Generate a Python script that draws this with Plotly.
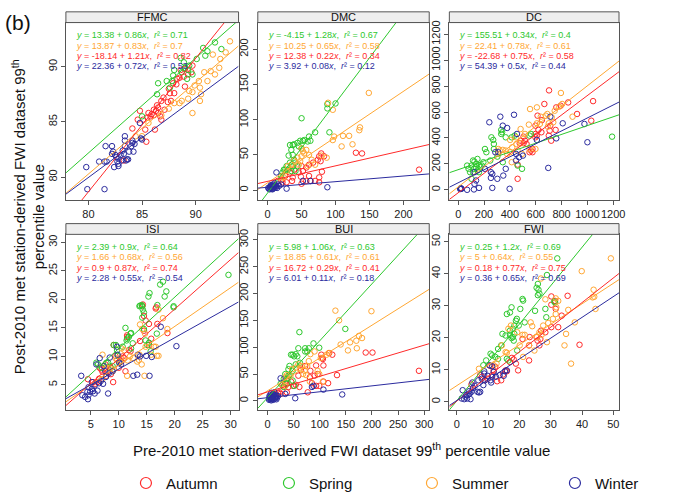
import plotly.graph_objects as go

FONT = "Liberation Sans, Arial, Helvetica, sans-serif"
W, H = 698, 500

seasons = ["Autumn", "Spring", "Summer", "Winter"]
colors = {"Autumn": "#FF2A2A", "Spring": "#2DC82D", "Summer": "#FFA733", "Winter": "#2B2B9E"}
fit_order = ["Spring", "Summer", "Autumn", "Winter"]

# ---- FFMC ----
ffmc_autumn = [(83.3,81.5),(84.1,84.4),(84.6,85.2),(84.8,86.0),(85.1,85.2),(85.3,84.3),(85.4,83.2),(85.5,85.4),(85.6,85.8),(85.8,85.5),(85.9,85.7),(86.1,85.6),(86.2,84.3),(86.3,86.0),(86.4,86.5),(86.5,85.8),(86.7,85.5),(86.8,85.2),(87.1,86.1),(86.5,86.3),(86.1,86.1),(87.4,86.8),(88.6,89.7),(89.3,89.3),(88.9,89.1),(87.6,87.6),(87.7,86.9),(87.9,88.5),(89.6,89.5),(89.0,88.2),(89.7,90.1),(88.3,88.9),(87.0,87.2),(87.5,88.0),(88.2,88.4),(88.0,87.6),(86.8,86.9),(89.0,89.8),(88.5,89.0)]
ffmc_spring = [(85.0,85.5),(86.4,87.5),(86.5,88.5),(87.3,88.7),(87.9,89.2),(88.0,89.7),(88.6,90.8),(88.9,90.4),(89.0,89.9),(89.3,89.7),(90.1,90.7),(90.7,91.7),(90.9,91.0),(91.1,91.4),(87.8,88.7),(87.6,88.1),(88.7,89.5),(89.2,88.9),(89.4,90.1),(89.7,89.3),(92.4,91.6),(91.8,92.2)]
ffmc_summer = [(91.6,91.1),(92.3,90.7),(92.2,89.9),(91.4,89.6),(91.8,89.3),(90.8,89.5),(90.3,88.7),(89.9,88.3),(89.7,87.7),(89.4,87.8),(89.3,87.1),(90.4,88.1),(91.1,88.7),(90.5,87.5),(88.7,86.9),(84.4,83.7),(85.0,83.7),(88.0,86.7),(88.5,86.7),(89.7,85.8),(90.4,86.9),(85.6,84.9),(93.2,92.3),(92.8,91.3),(86.8,85.6),(87.5,86.2)]
ffmc_winter = [(79.8,80.9),(79.9,78.9),(81.5,78.9),(81.0,81.4),(81.5,81.4),(81.6,82.8),(81.7,81.4),(82.2,82.1),(82.2,82.8),(82.3,82.3),(82.4,80.9),(82.5,82.0),(82.6,81.8),(82.7,81.4),(82.8,81.7),(82.8,81.2),(82.8,81.0),(83.0,82.0),(83.1,81.5),(83.2,82.4),(83.3,82.1),(83.4,83.7),(83.4,82.8),(83.4,83.3),(83.5,81.5),(83.6,81.6),(83.7,81.6),(83.8,82.3),(84.0,82.8),(84.1,83.3),(84.1,83.1),(84.2,82.3),(84.3,83.0),(84.8,84.9),(84.9,83.5),(85.0,83.4)]
ffmc_intercept = [13.38, 13.87, -18.14, 22.36]
ffmc_slope = [0.86, 0.83, 1.21, 0.72]
ffmc_r2 = [0.71, 0.7, 0.82, 0.53]

# ---- DMC ----
dmc_autumn = [(223,29),(130,53),(139,52),(79,52),(76,48),(78,41),(67,39),(61,36),(57,32),(50,34),(52,27),(49,19),(36,13),(37,18),(26,20),(28,11),(22,11),(50,9),(63,13),(76,18),(80,26),(76,11),(46,25),(39,29),(33,25),(61,20),(57,13),(70,13),(20,14),(15,13),(74,43),(83,48)]
dmc_spring = [(50,102),(70,82),(91,82),(88,122),(88,116),(100,123),(54,71),(52,70),(48,70),(44,67),(39,65),(37,64),(33,64),(31,49),(46,62),(50,59),(59,69),(61,76),(63,70),(35,57),(37,50),(39,43),(41,39),(33,39),(28,34),(26,29),(37,34),(44,34),(22,25),(20,20),(30,29),(41,27),(35,27),(24,29)]
dmc_summer = [(96,114),(89,124),(136,89),(135,85),(120,77),(111,77),(98,76),(96,71),(109,62),(125,65),(87,46),(79,49),(70,36),(65,43),(61,50),(54,52),(50,59),(52,55),(57,57),(48,41),(46,36),(39,42),(35,36),(30,34),(28,27),(24,18),(20,16),(50,48),(59,34),(44,46),(149,138)]
dmc_winter = [(2,2),(3,4),(4,3),(5,5),(6,2),(7,4),(8,6),(9,3),(10,5),(11,7),(12,4),(5,7),(3,1),(6,6),(8,2),(13,6),(15,8),(4,5),(7,1),(9,8),(13,25),(28,2),(52,13),(63,13),(88,4),(17,6),(20,8),(10,10),(14,3),(1,3)]
dmc_intercept = [-4.15, 10.25, 12.38, 3.92]
dmc_slope = [1.28, 0.65, 0.22, 0.08]
dmc_r2 = [0.67, 0.58, 0.34, 0.12]

# ---- DC ----
dc_autumn = [(460,85),(460,195),(476,359),(483,379),(506,359),(517,379),(529,354),(563,303),(575,315),(575,290),(614,572),(598,495),(621,462),(598,431),(644,444),(648,538),(667,662),(701,418),(708,456),(713,495),(720,379),(754,462),(759,636),(793,649),(851,674),(920,585),(1030,533),(552,290),(609,418),(598,405),(506,410),(703,767),(1044,684)]
dc_spring = [(69,187),(80,162),(92,136),(103,187),(115,226),(126,218),(138,200),(149,238),(138,174),(161,187),(172,174),(184,187),(195,213),(161,136),(149,149),(115,136),(103,85),(120,162),(207,315),(218,290),(257,405),(271,385),(276,354),(276,315),(248,226),(303,256),(333,431),(340,444),(333,462),(345,213),(368,405),(414,405),(460,187),(437,418),(552,418),(494,162),(1191,410),(563,431)]
dc_summer = [(795,747),(556,623),(609,636),(639,564),(678,572),(747,610),(782,641),(805,662),(724,559),(701,513),(609,513),(632,508),(694,487),(736,521),(690,585),(885,564),(547,503),(483,359),(451,354),(483,469),(448,405),(460,303),(418,328),(402,290),(368,303),(345,308),(322,303),(310,277),(310,315),(402,385),(379,277),(517,431),(552,315),(598,315),(494,277),(414,213)]
dc_winter = [(23,8),(18,10),(20,12),(25,9),(15,6),(69,0),(122,3),(126,136),(161,15),(126,46),(138,72),(207,162),(241,521),(253,136),(264,123),(253,92),(264,15),(303,85),(310,290),(287,290),(326,564),(345,495),(349,110),(368,162),(379,477),(398,8),(432,579),(448,277),(448,226),(455,431),(471,251),(501,264),(697,169),(713,564),(759,397),(809,513),(977,508),(1000,367),(609,385)]
dc_intercept = [155.51, 22.41, -22.68, 54.39]
dc_slope = [0.34, 0.78, 0.75, 0.5]
dc_r2 = [0.4, 0.61, 0.58, 0.44]

# ---- ISI ----
isi_autumn = [(4.5,6.0),(5.4,5.5),(5.8,5.2),(6.2,5.5),(6.5,6.1),(6.6,8.0),(6.9,7.7),(7.1,7.3),(7.6,8.6),(7.8,6.6),(8.0,7.2),(8.6,6.9),(8.5,8.2),(9.0,5.5),(9.4,10.1),(9.1,12.0),(10.0,8.0),(10.5,9.1),(10.7,10.0),(11.0,9.7),(11.2,7.4),(11.5,13.4),(11.8,11.1),(12.1,10.9),(11.5,13.7),(13.8,12.7),(14.2,18.8),(14.5,17.1),(14.5,14.5),(14.8,16.3),(15.4,12.0),(15.4,15.7),(15.8,13.1),(16.6,18.4),(16.9,15.7),(18.7,14.1),(16.7,18.6),(14.3,19.1)]
isi_spring = [(6.0,8.9),(6.3,8.6),(7.0,8.0),(7.8,8.9),(8.1,8.9),(8.6,8.0),(8.9,8.3),(9.1,12.0),(9.5,12.0),(9.7,11.1),(9.8,10.1),(10.1,8.9),(10.7,11.7),(11.2,15.0),(11.4,12.8),(11.5,13.1),(11.8,13.4),(12.1,14.0),(12.2,14.1),(12.2,11.4),(12.5,12.3),(13.7,18.8),(14.2,18.8),(14.3,18.2),(14.5,17.7),(14.2,16.8),(14.5,14.8),(14.8,12.8),(15.1,12.0),(15.4,12.4),(15.7,10.9),(16.8,14.0),(19.8,18.6),(13.8,18.9),(14.1,19.0),(16.9,19.0),(17.4,22.6),(17.9,23.1),(18.2,20.5),(18.5,21.4),(15.5,21.1),(15.3,20.5),(29.6,24.3),(19.8,18.8)]
isi_summer = [(7.0,6.0),(7.8,8.0),(8.4,8.0),(8.9,7.4),(9.1,7.7),(9.4,9.7),(9.7,9.4),(10.2,9.1),(10.4,9.7),(11.0,11.1),(10.5,11.4),(11.5,6.6),(11.6,9.3),(12.0,10.0),(12.6,9.7),(13.3,9.1),(13.6,9.4),(14.1,8.6),(14.6,6.6),(13.7,10.3),(13.8,15.6),(14.7,14.0),(14.2,14.8),(14.8,11.7),(15.8,10.3),(16.3,11.7),(16.6,11.7),(16.8,10.1),(17.1,10.1),(17.9,16.7),(17.1,18.2),(18.7,14.8),(7.1,10.3)]
isi_winter = [(3.3,6.6),(3.5,3.2),(4.5,2.5),(4.6,3.2),(4.9,3.8),(5.2,4.3),(4.6,4.6),(5.2,5.5),(5.7,4.9),(6.2,4.0),(5.7,3.5),(4.4,3.8),(6.5,5.3),(6.8,5.7),(6.0,8.6),(6.6,9.7),(7.3,8.3),(7.2,5.2),(7.6,7.4),(7.7,6.4),(8.2,7.0),(8.1,3.5),(8.4,9.8),(8.9,7.4),(9.7,11.7),(9.8,10.3),(10.1,8.9),(10.4,8.6),(12.6,6.6),(13.3,6.8),(13.4,10.3),(13.8,10.0),(14.9,10.1),(15.5,6.6),(15.9,9.9),(17.5,15.2),(20.3,11.8),(4.0,2.9),(5.4,3.9)]
isi_intercept = [2.39, 1.66, 0.9, 2.28]
isi_slope = [0.9, 0.68, 0.87, 0.55]
isi_r2 = [0.64, 0.56, 0.74, 0.54]

# ---- BUI ----
bui_autumn = [(290,56),(188,90),(201,90),(124,86),(118,89),(106,78),(107,66),(93,66),(96,50),(107,36),(116,33),(133,48),(82,56),(81,44),(85,33),(93,28),(77,16),(72,65),(64,57),(59,47),(61,26),(54,30),(49,28),(45,36),(37,38),(34,33),(30,27),(25,13),(23,16),(20,15),(14,13),(37,16),(40,26),(90,47),(99,28),(105,80),(103,86)]
bui_spring = [(61,128),(88,107),(99,99),(72,98),(72,92),(76,92),(79,98),(59,98),(48,86),(51,83),(45,86),(54,87),(57,83),(42,65),(40,59),(34,50),(37,42),(42,48),(48,56),(54,68),(51,28),(31,26),(37,32),(48,38),(149,134),(62,71),(40,47),(31,41),(25,32)]
bui_summer = [(130,168),(199,167),(137,150),(140,105),(154,94),(158,109),(170,112),(175,121),(181,117),(171,98),(117,89),(113,86),(102,80),(90,92),(82,87),(79,74),(76,65),(71,56),(68,50),(74,48),(65,65),(62,60),(59,68),(54,62),(47,59),(44,47),(37,48),(34,44),(28,30),(34,28),(99,50),(106,36),(81,36),(96,56)]
bui_winter = [(6,7),(9,4),(11,12),(14,7),(3,4),(17,10),(7,15),(13,16),(25,42),(17,3),(4,10),(10,13),(34,13),(53,5),(88,28),(107,21),(143,12),(85,26),(3,2),(5,4),(6,6),(8,3),(9,8),(10,5),(12,9),(14,4),(16,7),(4,8),(7,1),(11,2),(13,11),(18,6),(20,9)]
bui_intercept = [5.98, 18.85, 16.72, 6.01]
bui_slope = [1.06, 0.61, 0.29, 0.11]
bui_r2 = [0.63, 0.61, 0.41, 0.18]

# ---- FWI ----
fwi_autumn = [(4.7,5.4),(7.5,8.3),(8.0,7.8),(9.0,6.7),(9.9,7.2),(10.7,11.2),(11.3,8.3),(11.8,9.8),(12.3,10.9),(12.9,6.4),(14.2,6.7),(14.8,8.5),(15.6,9.8),(16.0,9.5),(17.0,12.4),(17.6,13.7),(18.2,13.2),(18.9,11.9),(19.6,9.8),(21.0,19.6),(23.1,17.6),(23.1,12.9),(23.3,20.2),(25.5,20.2),(25.8,19.1),(26.7,19.6),(26.9,22.2),(28.3,21.7),(30.2,23.3),(31.6,29.0),(32.4,23.3),(33.5,26.9),(39.2,17.8),(30.2,32.9),(35.4,33.1),(26.4,17.6),(30.2,30.3),(31.4,31.5)]
fwi_spring = [(8.5,11.4),(9.4,12.9),(10.8,15.0),(11.3,14.5),(12.3,14.0),(13.2,16.5),(14.2,17.6),(14.6,21.2),(16.0,27.4),(17.0,27.9),(17.5,29.5),(17.9,22.8),(18.4,23.8),(18.9,25.3),(19.2,25.9),(19.8,23.8),(20.3,29.0),(21.0,32.1),(21.7,24.8),(17.0,20.9),(17.5,19.9),(17.9,20.2),(18.4,21.2),(15.6,20.7),(17.0,22.2),(16.0,13.4),(16.5,12.9),(18.2,19.1),(19.3,16.0),(13.2,13.4),(28.6,26.4),(28.3,29.0),(31.1,31.3),(25.0,28.4),(32.1,44.8),(28.8,39.6),(25.9,36.8),(25.5,35.6),(26.1,35.0),(26.4,33.8),(25.9,33.3),(21.2,31.6),(31.4,31.0)]
fwi_summer = [(11.8,11.4),(12.7,11.9),(14.4,17.6),(15.6,15.5),(16.0,15.3),(16.5,22.8),(17.3,23.8),(19.3,21.7),(20.1,17.6),(21.0,20.9),(21.2,14.0),(21.7,20.9),(23.1,17.6),(23.6,24.8),(24.1,23.6),(24.8,16.0),(25.5,20.2),(26.4,21.7),(27.1,20.9),(27.6,23.8),(28.8,18.6),(29.2,24.6),(30.7,25.9),(31.6,27.4),(31.8,29.5),(32.4,31.5),(34.4,17.6),(34.9,21.2),(35.6,28.7),(36.5,11.9),(37.7,24.8),(43.4,32.6),(44.3,29.0),(26.9,38.5),(28.3,32.0),(39.9,40.8),(43.7,35.0),(43.9,32.8),(49.2,44.8),(31.6,32.3),(7.1,10.3)]
fwi_winter = [(1.9,3.6),(1.6,1.0),(2.4,0.8),(2.8,1.6),(3.3,1.0),(3.1,2.1),(3.8,2.3),(4.2,2.6),(4.0,3.3),(4.7,3.1),(4.4,0.8),(5.0,6.0),(5.2,4.3),(5.7,5.0),(6.6,3.1),(6.9,6.7),(7.1,2.9),(7.5,3.1),(8.0,7.2),(8.5,5.2),(9.0,6.7),(8.8,8.8),(8.8,9.5),(9.9,8.1),(10.8,6.7),(11.0,6.0),(11.3,7.8),(11.3,11.1),(12.5,7.8),(13.7,8.3),(15.0,8.1),(15.4,9.5),(16.0,9.8),(11.8,9.3),(10.4,11.4)]
fwi_intercept = [0.25, 5, 0.18, 0.36]
fwi_slope = [1.2, 0.64, 0.77, 0.65]
fwi_r2 = [0.69, 0.55, 0.75, 0.69]

panel_names = ["FFMC", "DMC", "DC", "ISI", "BUI", "FWI"]
panel_points = [
    {"Autumn": ffmc_autumn, "Spring": ffmc_spring, "Summer": ffmc_summer, "Winter": ffmc_winter},
    {"Autumn": dmc_autumn, "Spring": dmc_spring, "Summer": dmc_summer, "Winter": dmc_winter},
    {"Autumn": dc_autumn, "Spring": dc_spring, "Summer": dc_summer, "Winter": dc_winter},
    {"Autumn": isi_autumn, "Spring": isi_spring, "Summer": isi_summer, "Winter": isi_winter},
    {"Autumn": bui_autumn, "Spring": bui_spring, "Summer": bui_summer, "Winter": bui_winter},
    {"Autumn": fwi_autumn, "Spring": fwi_spring, "Summer": fwi_summer, "Winter": fwi_winter},
]
panel_fits = [
    (ffmc_intercept, ffmc_slope, ffmc_r2),
    (dmc_intercept, dmc_slope, dmc_r2),
    (dc_intercept, dc_slope, dc_r2),
    (isi_intercept, isi_slope, isi_r2),
    (bui_intercept, bui_slope, bui_r2),
    (fwi_intercept, fwi_slope, fwi_r2),
]
x_ticks = [[80, 85, 90], [0, 50, 100, 150, 200], [0, 200, 400, 600, 800, 1000, 1200],
           [5, 10, 15, 20, 25, 30], [0, 50, 100, 150, 200, 250, 300], [0, 10, 20, 30, 40, 50]]
y_ticks = [[80, 85, 90], [0, 50, 100, 150, 200], [0, 200, 400, 600, 800, 1000, 1200],
           [5, 10, 15, 20, 25, 30], [0, 50, 100, 150, 200, 250, 300], [0, 10, 20, 30, 40, 50]]

# panel geometry (pixels) and axis limits
col_px = [(74.3, 269.0), (290.7, 484.0), (506.7, 698.0)]
row_px = [(18.0, 200.0), (235.0, 415.0)]
strip_h = 11.0
x_ranges = [[77.9, 94.0], [-14.4, 237.9], [-68.5, 1244.6], [0.56, 31.4], [-18.7, 309.7], [-2.35, 51.8]]
y_ranges = [[77.9, 94.0], [-14.4, 237.9], [-80, 1290], [0.6, 31.4], [-17, 310], [-2.6, 52.3]]

FRAME = "#555555"
fig = go.Figure()
shapes, annotations = [], []

def fmt(v):
    return f"{v:g}"

for i, name in enumerate(panel_names):
    r, c = divmod(i, 3)
    ax = "" if i == 0 else str(i + 1)
    xref, yref = "x" + ax, "y" + ax
    x0, x1 = col_px[c]
    top, bot = row_px[r]
    fig.layout["xaxis" + ax] = dict(
        domain=[x0 / W, x1 / W], range=x_ranges[i], anchor=yref, tickvals=x_ticks[i],
        showline=True, mirror=True, linecolor=FRAME, linewidth=1, ticks="outside", ticklen=4,
        tickcolor=FRAME, showgrid=False, zeroline=False, tickangle=0,
        tickfont=dict(size=11, color="#222", family=FONT))
    fig.layout["yaxis" + ax] = dict(
        domain=[1 - bot / H, 1 - top / H], range=y_ranges[i], anchor=xref, tickvals=y_ticks[i],
        showline=True, mirror=True, linecolor=FRAME, linewidth=1, ticks="outside", ticklen=4,
        tickcolor=FRAME, showgrid=False, zeroline=False, tickangle=-90,
        tickfont=dict(size=11, color="#222", family=FONT))

    pts = panel_points[i]
    for s in seasons:
        xs = [p[0] for p in pts[s]]
        ys = [p[1] for p in pts[s]]
        fig.add_trace(go.Scatter(
            x=xs, y=ys, mode="markers", xaxis=xref, yaxis=yref, showlegend=False,
            marker=dict(symbol="circle-open", size=5.5, color=colors[s], line=dict(width=1))))

    a_list, b_list, r2_list = panel_fits[i]
    xr = x_ranges[i]
    for k, s in enumerate(fit_order):
        a, b = a_list[k], b_list[k]
        fig.add_trace(go.Scatter(
            x=[xr[0], xr[1]], y=[a + b * xr[0], a + b * xr[1]], mode="lines",
            xaxis=xref, yaxis=yref, showlegend=False,
            line=dict(color=colors[s], width=1)))
        txt = (f"<i>y</i> = {fmt(a)} + {fmt(b)}<i>x</i>,  <i>r</i>² = {fmt(r2_list[k])}")
        annotations.append(dict(
            text=txt, xref="paper", yref="paper", x=(x0 + 9) / W,
            y=1 - (top + 13 + 10.5 * k) / H, xanchor="left", yanchor="middle",
            showarrow=False, font=dict(size=9, color=colors[s], family=FONT)))

    # strip with panel name
    shapes.append(dict(type="rect", xref="paper", yref="paper",
                       x0=x0 / W, x1=x1 / W, y0=1 - top / H, y1=1 - (top - strip_h) / H,
                       fillcolor="#EEEEEE", line=dict(color=FRAME, width=1), layer="above"))
    annotations.append(dict(text=name, xref="paper", yref="paper", x=(x0 + x1) / 2 / W,
                            y=1 - (top - strip_h / 2) / H, xanchor="center", yanchor="middle",
                            showarrow=False, font=dict(size=11, color="#111", family=FONT)))

# legend entries
for s in seasons:
    fig.add_trace(go.Scatter(x=[None], y=[None], mode="markers", name=s,
                             marker=dict(symbol="circle-open", size=11, color=colors[s],
                                         line=dict(width=1.2))))

annotations.append(dict(text="Pre-2010 met station-derived FWI dataset 99<sup>th</sup> percentile value",
                        xref="paper", yref="paper", x=385 / W, y=1 - 455 / H,
                        xanchor="center", yanchor="middle", showarrow=False,
                        font=dict(size=15, color="#111", family=FONT)))
annotations.append(dict(text="Post-2010 met station-derived FWI dataset 99<sup>th</sup><br>percentile value",
                        xref="paper", yref="paper", x=32 / W, y=1 - 217 / H, textangle=-90,
                        xanchor="center", yanchor="middle", showarrow=False,
                        font=dict(size=15, color="#111", family=FONT)))
annotations.append(dict(text="(b)", xref="paper", yref="paper", x=3 / W, y=1 - 18 / H,
                        xanchor="left", yanchor="middle", showarrow=False,
                        font=dict(size=21, color="#111", family=FONT)))

fig.update_layout(
    width=W, height=H, margin=dict(l=0, r=0, t=0, b=0, pad=0),
    paper_bgcolor="white", plot_bgcolor="white",
    font=dict(family=FONT, color="#111"),
    shapes=shapes, annotations=annotations,
    legend=dict(orientation="h", x=142 / W, y=1 - 490 / H, xanchor="left", yanchor="middle",
                entrywidth=98, entrywidthmode="pixels", font=dict(size=15, family=FONT),
                bgcolor="rgba(0,0,0,0)", itemsizing="trace"),
)

fig.write_html("out.html")
